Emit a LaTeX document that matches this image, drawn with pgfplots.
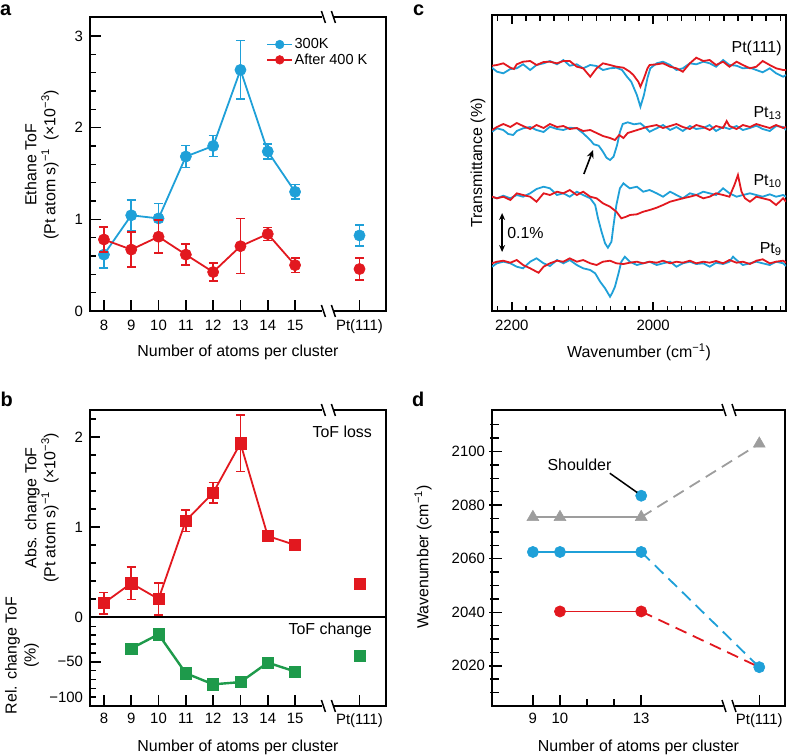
\documentclass[border=0pt]{standalone}
\usepackage{pgfplots}
\pgfplotsset{compat=1.18}
\usepackage{fontspec}
\setmainfont{Liberation Sans}
\usetikzlibrary{arrows.meta}
\definecolor{cblue}{HTML}{1FA0D8}
\definecolor{cred}{HTML}{E2181F}
\definecolor{cgreen}{HTML}{1E9A4B}
\definecolor{cgray}{HTML}{9D9D9D}
\newcommand\tl{\fontsize{15}{18}\selectfont}
\newcommand\lb{\fontsize{16}{19}\selectfont}
\pgfplotsset{
 pan/.style={
  scale only axis,
  clip mode=individual,
  axis line style={line width=1.8bp},
  tick style={black, line width=1.5bp},
  tick align=inside,
  major tick length=10bp,
  minor tick length=6bp,
  tick label style={font=\tl},
  /pgf/number format/assume math mode=true,
  /pgf/number format/1000 sep={},
  xticklabel style={yshift=-5.5bp},
  yticklabel style={xshift=-3.5bp},
 },
 err/.style={error bars/.cd, y dir=both, y explicit,
   error bar style={line width=1.5bp},
   error mark options={rotate=90, line width=1.5bp, mark size=4.5bp}, /pgfplots/.cd},
}
\tikzset{
 xl/.style={font=\lb, inner sep=0pt, yshift=-41.5bp},
 yl/.style={font=\lb, inner sep=0pt, align=center, rotate=90, anchor=south},
 tk/.style={line width=1.5bp, black},
}
\newcommand\brk[2]{%
 \fill[white] (#1bp-6bp,-#2bp-2.2bp) rectangle (#1bp+6bp,-#2bp+2.2bp);
 \draw[line width=1.5bp] (#1bp-7bp,-#2bp+6bp) -- (#1bp-3bp,-#2bp-6bp);
 \draw[line width=1.5bp] (#1bp+3bp,-#2bp+6bp) -- (#1bp+7bp,-#2bp-6bp);
}
\begin{document}
\begin{tikzpicture}
% ---------------- panel a
\begin{axis}[pan, at={(90bp,-17bp)}, anchor=north west, width=296bp, height=294bp,
 xmin=7.49, xmax=18.33, ymin=0, ymax=3.207, tick pos=left,
 major tick length=11bp,
 xtick={8,9,10,11,12,13,14,15,17.36}, xticklabels={8,9,10,11,12,13,14,15,Pt(111)},
 ytick={0,1,2,3}, minor ytick={0.2,0.4,0.6,0.8,1.2,1.4,1.6,1.8,2.2,2.4,2.6,2.8},
 legend style={at={(axis description cs:0.595,0.932)}, anchor=north west, draw=none, fill=none,
   font=\fontsize{14.6}{15}\selectfont, inner sep=0pt, row sep=0.5bp, nodes={inner sep=1.5bp}},
 legend cell align=left,
 legend image code/.code={\draw[#1, mark size=4.3bp, mark repeat=2, mark phase=2] plot coordinates {(0bp,0bp) (12.5bp,0bp) (25bp,0bp)};},
]
\addplot[cblue, line width=1.8bp, mark=*, mark size=5.6bp, mark options={line width=0.6bp}, err]
 coordinates {(8,0.615) +- (0,0.145) (9,1.044) +- (0,0.165) (10,1.01) +- (0,0.165) (11,1.685) +- (0,0.12)
 (12,1.80) +- (0,0.115) (13,2.63) +- (0,0.32) (14,1.74) +- (0,0.08) (15,1.30) +- (0,0.08)};
\addlegendentry{300K}
\addplot[cred, line width=1.8bp, mark=*, mark size=5.6bp, mark options={line width=0.6bp}, err]
 coordinates {(8,0.78) +- (0,0.137) (9,0.67) +- (0,0.19) (10,0.81) +- (0,0.18) (11,0.615) +- (0,0.115)
 (12,0.425) +- (0,0.10) (13,0.707) +- (0,0.30) (14,0.84) +- (0,0.07) (15,0.50) +- (0,0.08)};
\addlegendentry{After 400 K}
\addplot[forget plot, cblue, only marks, mark=*, mark size=5.6bp, mark options={line width=0.6bp}, err]
 coordinates {(17.36,0.824) +- (0,0.115)};
\addplot[forget plot, cred, only marks, mark=*, mark size=5.6bp, mark options={line width=0.6bp}, err]
 coordinates {(17.36,0.458) +- (0,0.12)};
\pgfplotsinvokeforeach{8,9,10,11,12,13,14,15,17.36}{\draw[tk] (axis cs:#1,0) -- ++(0bp,11bp);}
\pgfplotsinvokeforeach{1,2,3}{\draw[tk] (axis cs:7.49,#1) -- ++(10bp,0bp);}
\pgfplotsinvokeforeach{0.2,0.4,0.6,0.8,1.2,1.4,1.6,1.8,2.2,2.4,2.6,2.8}{\draw[tk] (axis cs:7.49,#1) -- ++(6bp,0bp);}
\node[xl] at (axis description cs:0.5,0) {Number of atoms per cluster};
\node[yl] at (axis description cs:-0.105,0.497) {Ethane ToF\\(Pt atom s)\textsuperscript{−1}\enspace(×10\textsuperscript{−3})};
\end{axis}
% ---------------- panel b upper
\begin{axis}[pan, at={(90bp,-410bp)}, anchor=north west, width=296bp, height=207bp,
 xmin=7.49, xmax=18.33, ymin=0, ymax=2.3, tick pos=left,
 xtick=\empty,
 ytick={0,1,2}, minor ytick={0.2,0.4,0.6,0.8,1.2,1.4,1.6,1.8,2.2},
]
\addplot[cred, line width=1.8bp, mark=square*, mark size=5.6bp, mark options={line width=0.6bp}, err]
 coordinates {(8,0.155) +- (0,0.12) (9,0.375) +- (0,0.18) (10,0.20) +- (0,0.18) (11,1.07) +- (0,0.12)
 (12,1.38) +- (0,0.115) (13,1.93) +- (0,0.315) (14,0.90) +- (0,0.05) (15,0.80) +- (0,0.06)};
\addplot[cred, only marks, mark=square*, mark size=5.6bp, mark options={line width=0.6bp}]
 coordinates {(17.36,0.37)};
\pgfplotsinvokeforeach{1,2}{\draw[tk] (axis cs:7.49,#1) -- ++(10bp,0bp);}
\pgfplotsinvokeforeach{0.2,0.4,0.6,0.8,1.2,1.4,1.6,1.8,2.2}{\draw[tk] (axis cs:7.49,#1) -- ++(6bp,0bp);}
\node[anchor=base east, font=\lb, inner sep=0pt] at (axis cs:17.82,1.99) {ToF loss};
\node[yl] at (axis description cs:-0.105,0.527) {Abs. change ToF\\(Pt atom s)\textsuperscript{−1}\enspace(×10\textsuperscript{−3})};
\end{axis}
% ---------------- panel b lower
\begin{axis}[pan, at={(90bp,-617.5bp)}, anchor=north west, width=296bp, height=88.5bp,
 xmin=7.49, xmax=18.33, ymin=-100, ymax=0, tick pos=left,
 major tick length=11bp,
 xtick={8,9,10,11,12,13,14,15,17.36}, xticklabels={8,9,10,11,12,13,14,15,Pt(111)},
 xticklabel style={yshift=1.5bp},
 ytick={-50}, yticklabels={−50}, minor ytick={-90,-80,-70,-60,-40,-30,-20,-10},
 extra y ticks={-100}, extra y tick labels={−100},
 extra y tick style={yticklabel style={yshift=8.5bp}},
]
\addplot[cgreen, line width=2.4bp, mark=square*, mark size=5.6bp, mark options={line width=0.6bp}]
 coordinates {(9,-35) (10,-19) (11,-63) (12,-75.5) (13,-73) (14,-51) (15,-61)};
\addplot[cgreen, only marks, mark=square*, mark size=5.6bp, mark options={line width=0.6bp}]
 coordinates {(17.36,-43.5)};
\pgfplotsinvokeforeach{8,9,10,11,12,13,14,15,17.36}{\draw[tk] (axis cs:#1,-100) -- ++(0bp,11bp);}
\pgfplotsinvokeforeach{-50}{\draw[tk] (axis cs:7.49,#1) -- ++(10bp,0bp);}
\pgfplotsinvokeforeach{-90,-80,-70,-60,-40,-30,-20,-10}{\draw[tk] (axis cs:7.49,#1) -- ++(6bp,0bp);}
\node[anchor=base east, font=\lb, inner sep=0pt] at (axis cs:17.82,-19.7) {ToF change};
\node[xl] at (axis description cs:0.5,0) {Number of atoms per cluster};
\node[yl] at (axis description cs:-0.172,0.573) {Rel. change ToF\\(\%)};
\end{axis}
% ---------------- panel c
\begin{axis}[pan, at={(492bp,-15bp)}, anchor=north west, width=294bp, height=296bp,
 xmin=1812, xmax=2228, x dir=reverse, ymin=15, ymax=311, y dir=reverse,
 xtick={2000,2200}, minor xtick={1820,1840,1860,1880,1900,1920,1940,1960,1980,2020,2040,2060,2080,2100,2120,2140,2160,2180,2220},
 ytick=\empty, major tick length=9bp, minor tick length=5.5bp,
]
% Pt(111)
\addplot[cblue, line width=1.8bp] coordinates {(2228,67.7)(2221,71.7)(2212,73.3)(2202,69)(2193,68.3)(2184,64.3)(2174,70)(2165,65)(2155,63.3)(2146,61)(2136,64.3)(2127,60)(2118,65.7)(2108,64.3)(2099,68.3)(2089,65)(2080,66)(2071,70)(2061,68.3)(2052,67.7)(2044,70)(2037,76.7)(2031,81.7)(2023,95)(2018,106.7)(2013,95)(2008,78)(2004,68.3)(1995,63.3)(1986,61.7)(1976,65)(1967,70)(1958,68.3)(1948,63.3)(1939,64.3)(1929,61.7)(1920,63.3)(1911,66.7)(1901,60)(1892,65)(1882,65.7)(1873,68.3)(1863,67.7)(1854,70)(1845,72.3)(1835,68.3)(1826,73.3)(1816,76.7)(1812,75)};
\addplot[cred, line width=1.8bp] coordinates {(2228,65.7)(2221,65)(2212,63.3)(2202,67.7)(2197,69)(2193,64.3)(2184,61.7)(2174,61)(2165,65)(2155,62)(2146,61.7)(2136,63.3)(2127,61)(2118,61)(2108,66.7)(2099,68.3)(2089,76.7)(2080,68.3)(2071,63.3)(2061,65)(2052,66.7)(2042,67.7)(2033,71.7)(2028,75)(2021,81.7)(2018,86.7)(2013,78.3)(2008,68.3)(2005,65)(1995,64.3)(1986,63.3)(1976,66.7)(1967,68.3)(1958,71.7)(1948,63.3)(1939,57.7)(1929,61)(1920,60)(1911,65)(1901,61.7)(1892,66.7)(1882,61.7)(1873,65)(1863,68.3)(1854,66.7)(1845,61)(1835,65)(1826,68.3)(1816,70)(1812,70)};
% Pt13
\addplot[cblue, line width=1.8bp] coordinates {(2228,131.7)(2221,128.3)(2212,130)(2205,134)(2198,135)(2193,131)(2184,128.3)(2174,127)(2165,130)(2155,132)(2146,126.7)(2136,129)(2127,130)(2118,127.7)(2108,128.3)(2099,133.3)(2089,140)(2084,144.3)(2077,145.7)(2071,151.7)(2066,157.7)(2061,160)(2056,156.7)(2051,145)(2047,132)(2043,124)(2036,122.3)(2027,124.3)(2018,123.3)(2010,128)(2005,131.7)(1995,128.3)(1986,125)(1976,130)(1967,127)(1958,131)(1948,126)(1939,129)(1929,128)(1920,125)(1911,131)(1901,127)(1892,129)(1882,126)(1873,130)(1863,128)(1854,125.7)(1845,129)(1835,131)(1826,126)(1816,127)(1812,130)};
\addplot[cred, line width=1.8bp] coordinates {(2228,130)(2221,127)(2212,124)(2202,127)(2193,123)(2184,126)(2174,129)(2165,125)(2155,128)(2146,124)(2136,127)(2127,126)(2118,129)(2108,128)(2099,131)(2089,130)(2080,133)(2071,136)(2061,138)(2054,140)(2048,135)(2042,138)(2036,133)(2027,131)(2018,129)(2009,127)(1995,125)(1986,128)(1976,126)(1967,124)(1958,127)(1948,129)(1939,125)(1929,127)(1920,130)(1911,126)(1901,128)(1896,121)(1892,126)(1882,129)(1873,125)(1863,127)(1854,124)(1845,126)(1835,128)(1826,125)(1816,128)(1812,127)};
% Pt10
\addplot[cblue, line width=1.8bp] coordinates {(2228,196.7)(2221,198.3)(2212,195.7)(2202,198.3)(2193,195)(2184,196.7)(2174,193.3)(2165,189)(2155,186.7)(2146,188.3)(2136,195)(2127,193.3)(2118,196.7)(2108,191.7)(2099,195)(2089,198.3)(2082,205)(2078,218.3)(2073,231.7)(2068,243.3)(2064,247.7)(2059,241.7)(2056,225)(2052,205)(2047,188.3)(2042,183.3)(2038,185.7)(2033,188.3)(2023,186.7)(2014,191.7)(2005,190)(1995,193.3)(1986,196.7)(1976,191.7)(1967,195)(1958,198.3)(1948,193.3)(1939,195)(1929,191.7)(1920,193.3)(1911,195)(1901,188.3)(1892,193.3)(1882,196.7)(1873,195)(1863,193.3)(1854,195)(1845,196.7)(1835,194.3)(1826,196.7)(1816,195)(1812,196.7)};
\addplot[cred, line width=1.8bp] coordinates {(2228,196.7)(2221,198.3)(2212,196.7)(2202,200)(2193,193.3)(2184,195)(2174,196.7)(2165,201.7)(2155,193.3)(2146,195)(2136,191.7)(2127,193.3)(2118,190)(2108,195)(2099,191.7)(2089,196.7)(2080,198.3)(2071,203.3)(2061,206.7)(2052,211.7)(2045,218.3)(2038,216.7)(2033,215)(2023,214.3)(2014,211.7)(2005,210)(1995,207.7)(1986,205)(1976,201.7)(1967,200)(1958,198.3)(1948,196.7)(1939,195)(1929,198.3)(1920,196.7)(1911,193.3)(1901,195)(1892,196.7)(1885,185)(1880,175)(1875,191.7)(1870,198.3)(1863,201.7)(1854,196.7)(1845,198.3)(1835,200)(1826,205)(1816,198.3)(1812,201.7)};
% Pt9
\addplot[cblue, line width=1.8bp] coordinates {(2228,266.7)(2221,263.3)(2212,261.7)(2202,263.3)(2193,266.7)(2184,268.3)(2174,261.7)(2165,258.3)(2155,263.3)(2146,266)(2136,260)(2127,263.3)(2118,260)(2108,265)(2099,268.3)(2089,270)(2082,273.3)(2075,281.7)(2068,288.3)(2061,296.7)(2058,293)(2054,286.7)(2049,273.3)(2045,261.7)(2040,256.7)(2033,261.7)(2023,265)(2014,263.3)(2005,261.7)(1995,265)(1986,263.3)(1976,261.7)(1967,266.7)(1958,263.3)(1948,261.7)(1939,264)(1929,263.3)(1920,266.7)(1911,262.7)(1901,264)(1892,261.7)(1887,256.7)(1882,260)(1873,265)(1863,263.3)(1854,261.7)(1845,263.3)(1835,265)(1826,261.7)(1816,263.3)(1812,266)};
\addplot[cred, line width=1.8bp] coordinates {(2228,263.3)(2221,261.7)(2212,260.7)(2202,262.7)(2193,260)(2184,265)(2174,268.3)(2165,271.7)(2162,272.7)(2155,266.7)(2146,263.3)(2136,260.7)(2127,261.7)(2118,258.3)(2108,261.7)(2099,260)(2089,263.3)(2080,265)(2071,261.7)(2061,260.7)(2052,263.3)(2042,264)(2033,262.7)(2023,261.7)(2014,263.3)(2005,261.7)(1995,262.7)(1986,260.7)(1976,263.3)(1967,261.7)(1958,262.7)(1948,260.7)(1939,263.3)(1929,261.7)(1920,262.7)(1911,261)(1901,263.3)(1892,260)(1882,262.7)(1873,261.7)(1863,264)(1854,260.7)(1845,259.3)(1835,263.3)(1826,261.7)(1816,260.7)(1812,262.7)};
\pgfplotsinvokeforeach{2000,2200}{\draw[tk] (axis cs:#1,311) -- ++(0bp,9bp); \draw[tk] (axis cs:#1,15) -- ++(0bp,-9bp);}
\pgfplotsinvokeforeach{1820,1840,1860,1880,1900,1920,1940,1960,1980,2020,2040,2060,2080,2100,2120,2140,2160,2180,2220}{\draw[tk] (axis cs:#1,311) -- ++(0bp,5.5bp); \draw[tk] (axis cs:#1,15) -- ++(0bp,-5.5bp);}
\node[anchor=base east, font=\lb, inner sep=0pt] at (axis cs:1818,52) {Pt(111)};
\node[anchor=base east, font=\lb, inner sep=0pt] at (axis cs:1818,117) {Pt\textsubscript{13}};
\node[anchor=base east, font=\lb, inner sep=0pt] at (axis cs:1818,185) {Pt\textsubscript{10}};
\node[anchor=base east, font=\lb, inner sep=0pt] at (axis cs:1818,253) {Pt\textsubscript{9}};
\draw[-{Stealth[length=8bp,width=7bp]}, line width=1.6bp] (axis cs:2098,174) -- (axis cs:2085,150);
\draw[{Stealth[length=7bp,width=6bp]}-{Stealth[length=7bp,width=6bp]}, line width=1.6bp] (axis cs:2213.7,213) -- (axis cs:2213.7,252);
\node[anchor=west, font=\lb, inner sep=0pt] at (axis cs:2206.6,233) {0.1\%};
\node[xl] at (axis description cs:0.5,0) {Wavenumber (cm\textsuperscript{−1})};
\node[yl] at (axis description cs:-0.022,0.5) {Transmittance (\%)};
\end{axis}
% ---------------- panel d
\begin{axis}[pan, at={(492bp,-410bp)}, anchor=north west, width=293bp, height=296bp,
 xmin=7.49, xmax=18.31, ymin=2005, ymax=2115.5, tick pos=left,
 xtick={9,10,13,17.36}, xticklabels={9,10,13,Pt(111)}, minor xtick={11,12},
 xticklabel style={yshift=1.5bp},
 major tick length=10bp, minor tick length=7bp,
 ytick={2020,2040,2060,2080,2100},
 minor ytick={2010,2015,2025,2030,2035,2045,2050,2055,2065,2070,2075,2085,2090,2095,2105,2110},
]
\addplot[cgray, line width=1.8bp, dash pattern=on 12bp off 7bp] coordinates {(13,2075.5) (17.36,2102.9)};
\addplot[cblue, line width=1.8bp, dash pattern=on 12bp off 7bp] coordinates {(13,2062.5) (17.36,2019.5)};
\addplot[cred, line width=1.8bp, dash pattern=on 12bp off 7bp] coordinates {(13,2040.3) (17.36,2019.5)};
\addplot[cgray, line width=1.8bp, mark=triangle*, mark size=6.8bp, mark options={line width=0.6bp}] coordinates {(9,2075.5) (10,2075.5) (13,2075.5)};
\addplot[cgray, only marks, mark=triangle*, mark size=6.8bp, mark options={line width=0.6bp}] coordinates {(17.36,2102.9)};
\addplot[cblue, line width=1.8bp, mark=*, mark size=5.6bp, mark options={line width=0.6bp}] coordinates {(9,2062.5) (10,2062.5) (13,2062.5)};
\addplot[cred, line width=1.8bp, mark=*, mark size=5.6bp, mark options={line width=0.6bp}] coordinates {(10,2040.3) (13,2040.3)};
\addplot[cblue, only marks, mark=*, mark size=5.6bp, mark options={line width=0.6bp}] coordinates {(13,2083.5) (17.36,2019.5)};
\pgfplotsinvokeforeach{9,10,13,17.36}{\draw[tk] (axis cs:#1,2005) -- ++(0bp,11bp);}
\pgfplotsinvokeforeach{11,12}{\draw[tk] (axis cs:#1,2005) -- ++(0bp,6bp);}
\pgfplotsinvokeforeach{2020,2040,2060,2080,2100}{\draw[tk] (axis cs:7.49,#1) ++(-3bp,0bp) -- ++(11bp,0bp);}
\pgfplotsinvokeforeach{2010,2015,2025,2030,2035,2045,2050,2055,2065,2070,2075,2085,2090,2095,2105,2110}{\draw[tk] (axis cs:7.49,#1) ++(-2bp,0bp) -- ++(7bp,0bp);}
\node[font=\lb, inner sep=0pt] at (axis cs:10.72,2095) {Shoulder};
\draw[line width=1.5bp] (axis cs:11.84,2091.9) -- (axis cs:12.85,2084.7);
\node[xl] at (axis description cs:0.5,0) {Number of atoms per cluster};
\node[yl] at (axis description cs:-0.205,0.503) {Wavenumber (cm\textsuperscript{−1})};
\end{axis}
% ---------------- breaks
\brk{328.4}{17}
\brk{328.4}{311}
\brk{328.4}{410}
\brk{328.4}{706}
\brk{729}{410}
\brk{729}{706}
% ---------------- panel letters
\node[anchor=base west, inner sep=0pt, font=\bfseries\fontsize{20}{20}\selectfont] at (0bp,-15.5bp) {a};
\node[anchor=base west, inner sep=0pt, font=\bfseries\fontsize{20}{20}\selectfont] at (0.5bp,-406.5bp) {b};
\node[anchor=base west, inner sep=0pt, font=\bfseries\fontsize{20}{20}\selectfont] at (413bp,-15.5bp) {c};
\node[anchor=base west, inner sep=0pt, font=\bfseries\fontsize{20}{20}\selectfont] at (412bp,-406.5bp) {d};
\pgfresetboundingbox
\path[use as bounding box] (0,0) rectangle (788bp,-755bp);
\end{tikzpicture}
\end{document}
